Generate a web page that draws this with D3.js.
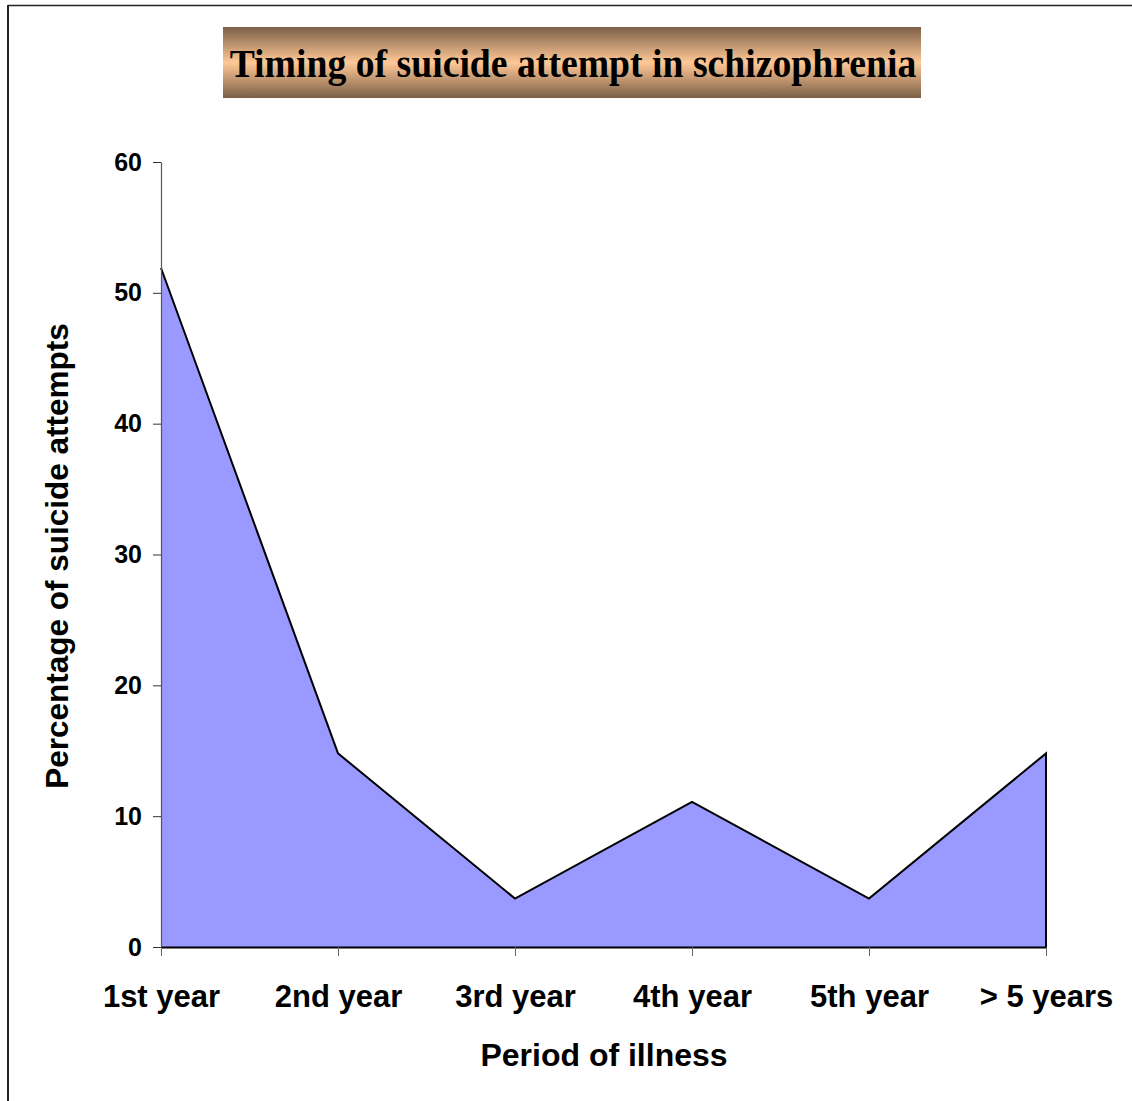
<!DOCTYPE html>
<html>
<head>
<meta charset="utf-8">
<script src="https://cdn.jsdelivr.net/npm/d3@7"></script>
<style>
  body { margin: 0; background: #fff; }
  svg { display: block; }
</style>
</head>
<body>
<svg id="chart" width="1132" height="1101"></svg>
<script>
// data
const periods = ["1st year", "2nd year", "3rd year", "4th year", "5th year", "> 5 years"];
const attempts = [51.9, 14.8, 3.7, 11.1, 3.7, 14.8];
const yTicks = [0, 10, 20, 30, 40, 50, 60];

const svg = d3.select("#chart");
const plotLeft = 161, plotRight = 1046, plotTop = 162, plotBottom = 947;

// outer frame (only top and left visible in the original)
svg.append("line").attr("x1", 8).attr("x2", 1132).attr("y1", 5.5).attr("y2", 5.5)
  .attr("stroke", "#222").attr("stroke-width", 1.5);
svg.append("line").attr("x1", 8).attr("x2", 8).attr("y1", 5).attr("y2", 1101)
  .attr("stroke", "#222").attr("stroke-width", 2);

// title box with vertical gradient
const defs = svg.append("defs");
const grad = defs.append("linearGradient").attr("id", "titleGrad")
  .attr("x1", 0).attr("x2", 0).attr("y1", 0).attr("y2", 1);
grad.append("stop").attr("offset", "0%").attr("stop-color", "#7b5f47");
grad.append("stop").attr("offset", "50%").attr("stop-color", "#ffc896");
grad.append("stop").attr("offset", "100%").attr("stop-color", "#7b5f47");

svg.append("rect").attr("x", 223).attr("y", 27).attr("width", 698).attr("height", 71)
  .attr("fill", "url(#titleGrad)");
// Times bold, a bit narrowed like the original
svg.append("text")
  .attr("transform", "translate(573,77) scale(0.92,1)")
  .attr("text-anchor", "middle")
  .style("font-family", "'Liberation Serif', 'Times New Roman', serif")
  .style("font-weight", "bold").style("font-size", "41px")
  .text("Timing of suicide attempt in schizophrenia");

const x = d3.scalePoint().domain(periods).range([plotLeft, plotRight]);
const y = d3.scaleLinear().domain([0, 60]).range([plotBottom, plotTop]);

// area
const area = d3.area()
  .x((d, i) => x(periods[i]))
  .y0(y(0))
  .y1(d => y(d));
svg.append("path").datum(attempts)
  .attr("d", area)
  .attr("fill", "#9999ff");

const line = d3.line()
  .x((d, i) => x(periods[i]))
  .y(d => y(d));
// top outline plus right edge down to baseline
svg.append("path").datum(attempts)
  .attr("d", line(attempts) + "L" + x(periods[periods.length - 1]) + "," + y(0))
  .attr("fill", "none").attr("stroke", "#000").attr("stroke-width", 2);

// y axis
const yAxis = svg.append("g").attr("transform", `translate(${plotLeft},0)`)
  .call(d3.axisLeft(y).tickValues(yTicks).tickSize(8).tickPadding(11).tickSizeOuter(0));
yAxis.select(".domain").attr("stroke", "#555").attr("stroke-width", 1.2);
yAxis.selectAll(".tick line").attr("stroke", "#333");
yAxis.selectAll("text")
  .style("font-family", "'Liberation Sans', Arial, sans-serif")
  .style("font-weight", "bold").style("font-size", "25px").attr("fill", "#000");

// x axis
const xAxis = svg.append("g").attr("transform", `translate(0,${plotBottom})`)
  .call(d3.axisBottom(x).tickSize(9).tickPadding(29).tickSizeOuter(0));
xAxis.select(".domain").attr("stroke", "#000").attr("stroke-width", 2);
xAxis.selectAll(".tick line").attr("stroke", "#666");
xAxis.selectAll("text")
  .style("font-family", "'Liberation Sans', Arial, sans-serif")
  .style("font-weight", "bold").style("font-size", "31px").attr("fill", "#000");

// axis titles
svg.append("text").attr("x", 604).attr("y", 1066)
  .attr("text-anchor", "middle")
  .style("font-family", "'Liberation Sans', Arial, sans-serif")
  .style("font-weight", "bold").style("font-size", "32px")
  .text("Period of illness");

svg.append("text")
  .attr("transform", "translate(68,556) rotate(-90)")
  .attr("text-anchor", "middle")
  .style("font-family", "'Liberation Sans', Arial, sans-serif")
  .style("font-weight", "bold").style("font-size", "31.5px")
  .text("Percentage of suicide attempts");
</script>
</body>
</html>
